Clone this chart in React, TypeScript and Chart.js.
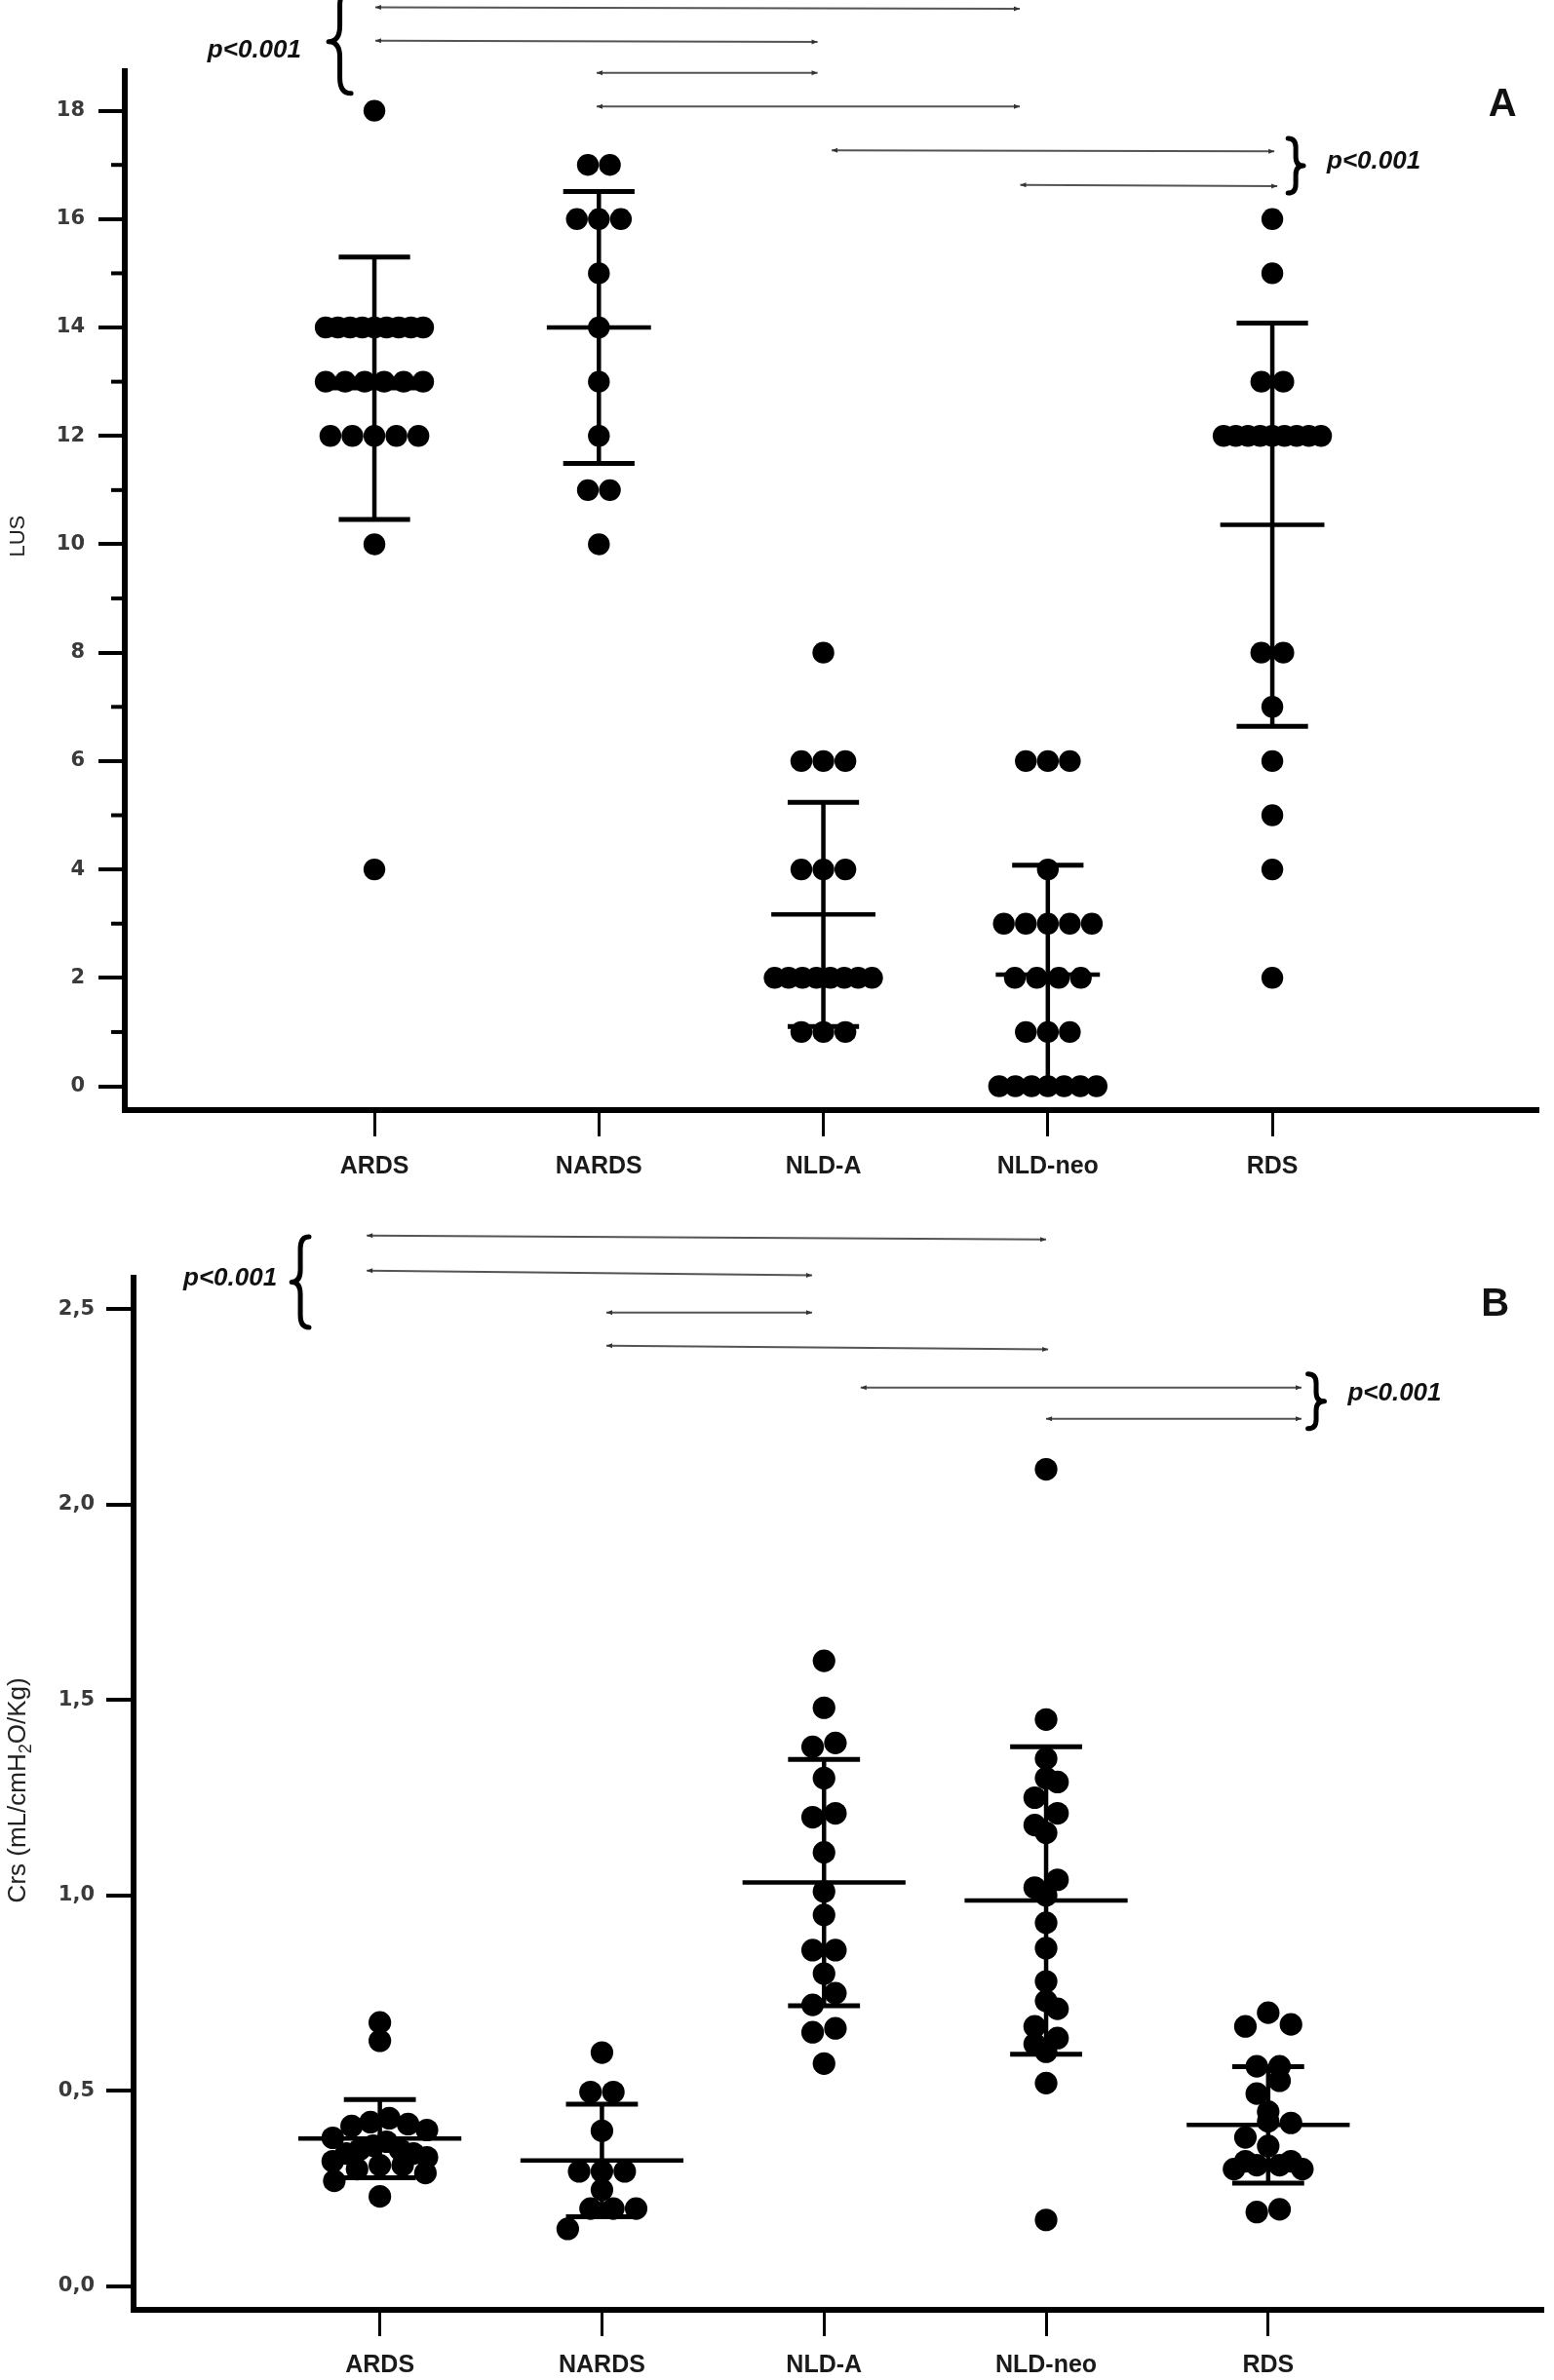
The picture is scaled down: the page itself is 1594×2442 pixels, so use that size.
import React, { useEffect, useRef } from 'react';
import { Chart, registerables } from 'chart.js';

Chart.register(...registerables);

// ---------------- shared ----------------
const categories = ['ARDS', 'NARDS', 'NLD-A', 'NLD-neo', 'RDS'];
const pValueText = 'p<0.001';

// ---------------- Panel A : LUS ----------------
const lusARDS = [18, 14, 14, 14, 14, 14, 14, 14, 14, 14, 13, 13, 13, 13, 13, 13, 12, 12, 12, 12, 12, 10, 4];
const lusNARDS = [17, 17, 16, 16, 16, 15, 14, 13, 12, 11, 11, 10];
const lusNLDA = [8, 6, 6, 6, 4, 4, 4, 2, 2, 2, 2, 2, 2, 2, 2, 1, 1, 1];
const lusNLDneo = [6, 6, 6, 4, 3, 3, 3, 3, 3, 2, 2, 2, 2, 1, 1, 1, 0, 0, 0, 0, 0, 0, 0];
const lusRDS = [16, 15, 13, 13, 12, 12, 12, 12, 12, 12, 12, 12, 12, 8, 8, 7, 6, 5, 4, 2];
const lusMean = [12.88, 14.0, 3.17, 2.06, 10.36];
const lusSD = [2.42, 2.51, 2.07, 2.02, 3.72];
const lusTickValues = [0, 2, 4, 6, 8, 10, 12, 14, 16, 18];
const lusTickLabels = ['0', '2', '4', '6', '8', '10', '12', '14', '16', '18'];
const lusMinorTicks = [1, 3, 5, 7, 9, 11, 13, 15, 17];
const lusTitleParts = [{ t: 'LUS', sub: false }];
const lusTitleY = 10.15;
// significance lines: [xFrom, xTo, yFrom, yTo] (category / LUS units)
const lusSigLines = [
  [1.004, 3.875, 19.91, 19.88],
  [1.004, 2.974, 19.29, 19.27],
  [1.99, 2.974, 18.7, 18.7],
  [1.99, 3.875, 18.08, 18.08],
  [3.037, 5.009, 17.27, 17.25],
  [3.877, 5.022, 16.63, 16.61],
];
// braces: [xEnds, xTip, yTop, yBottom]
const lusBraces = [
  [0.896, 0.796, 20.23, 18.32],
  [5.07, 5.139, 17.49, 16.48],
];
// p-value labels: [x, y, align]
const lusPLabels: [number, number, CanvasTextAlign][] = [
  [0.674, 19.11, 'right'],
  [5.243, 17.06, 'left'],
];
const lusLetterPos = [6.025, 18.1];

// ---------------- Panel B : Crs ----------------
const crsARDS = [0.675, 0.628, 0.43, 0.42, 0.415, 0.41, 0.4, 0.38, 0.37, 0.36, 0.35, 0.35, 0.34, 0.34, 0.33, 0.32, 0.31, 0.31, 0.3, 0.29, 0.27, 0.23];
const crsNARDS = [0.598, 0.497, 0.497, 0.398, 0.294, 0.294, 0.294, 0.247, 0.199, 0.199, 0.199, 0.147];
const crsNLDA = [1.6, 1.48, 1.39, 1.38, 1.3, 1.21, 1.2, 1.11, 1.01, 0.95, 0.86, 0.86, 0.8, 0.75, 0.72, 0.66, 0.65, 0.57];
const crsNLDneo = [2.09, 1.45, 1.35, 1.3, 1.29, 1.25, 1.21, 1.18, 1.16, 1.04, 1.02, 1.0, 0.93, 0.865, 0.78, 0.73, 0.71, 0.665, 0.635, 0.62, 0.6, 0.52, 0.17];
const crsRDS = [0.7, 0.67, 0.665, 0.563, 0.563, 0.526, 0.493, 0.447, 0.422, 0.418, 0.381, 0.359, 0.32, 0.32, 0.31, 0.31, 0.3, 0.3, 0.197, 0.19];
const crsMean = [0.378, 0.322, 1.033, 0.987, 0.413];
const crsSD = [0.1, 0.144, 0.315, 0.393, 0.149];
const crsTickValues = [0, 0.5, 1.0, 1.5, 2.0, 2.5];
const crsTickLabels = ['0,0', '0,5', '1,0', '1,5', '2,0', '2,5'];
const crsMinorTicks: number[] = [];
const crsTitleParts = [
  { t: 'Crs (mL/cmH', sub: false },
  { t: '2', sub: true },
  { t: 'O/Kg)', sub: false },
];
const crsTitleY = 1.269;
const crsSigLines = [
  [0.941, 4.0, 2.688, 2.678],
  [0.941, 2.946, 2.598, 2.586],
  [2.02, 2.946, 2.491, 2.491],
  [2.02, 4.009, 2.406, 2.397],
  [3.165, 5.15, 2.299, 2.299],
  [4.0, 5.15, 2.219, 2.219],
];
const crsBraces = [
  [0.681, 0.603, 2.685, 2.453],
  [5.179, 5.253, 2.334, 2.194],
];
const crsPLabels: [number, number, CanvasTextAlign][] = [
  [0.537, 2.578, 'right'],
  [5.358, 2.283, 'left'],
];
const crsLetterPos = [6.022, 2.511];

// ---------------- helpers ----------------
const SANS = "'Liberation Sans', Arial, Helvetica, sans-serif";
const WIDE = "'DejaVu Sans', Verdana, sans-serif";

type Pt = { x: number | null; y: number | null };
type Part = { t: string; sub: boolean };

function swarm(values: number[], center: number, binSize: number, step: number, maxSpan: number): Pt[] {
  const bins = new Map<number, number[]>();
  values.forEach((v) => {
    const k = Math.floor(v / binSize + 0.5);
    if (!bins.has(k)) bins.set(k, []);
    bins.get(k)!.push(v);
  });
  const pts: Pt[] = [];
  bins.forEach((vs) => {
    vs.sort((a, b) => b - a);
    const n = vs.length;
    const sp = n > 1 ? Math.min(step, maxSpan / (n - 1)) : 0;
    const slots = Array.from({ length: n }, (_, i) => (i - (n - 1) / 2) * sp).sort(
      (a, b) => Math.abs(a) - Math.abs(b) || b - a
    );
    vs.forEach((v, i) => pts.push({ x: center + slots[i], y: v }));
  });
  return pts;
}

function drawBrace(ctx: CanvasRenderingContext2D, xe: number, xt: number, yt: number, yb: number) {
  const mid = (yt + yb) / 2;
  const xm = (xe + xt) / 2;
  const r = Math.min(Math.abs(xe - xt) * 0.7, (yb - yt) / 6);
  ctx.beginPath();
  ctx.moveTo(xe, yt);
  ctx.quadraticCurveTo(xm, yt, xm, yt + r);
  ctx.lineTo(xm, mid - r);
  ctx.quadraticCurveTo(xm, mid, xt, mid);
  ctx.quadraticCurveTo(xm, mid, xm, mid + r);
  ctx.lineTo(xm, yb - r);
  ctx.quadraticCurveTo(xm, yb, xe, yb);
  ctx.stroke();
}

function arrowHead(ctx: CanvasRenderingContext2D, x: number, y: number, dir: number) {
  ctx.beginPath();
  ctx.moveTo(x, y);
  ctx.lineTo(x - dir * 6, y - 2.5);
  ctx.lineTo(x - dir * 6, y + 2.5);
  ctx.closePath();
  ctx.fill();
}

type PanelCfg = {
  letter: string;
  height: number;
  yAxisWidth: number;
  xAxisHeight: number;
  padTop: number;
  padRight: number;
  xMin: number;
  xMax: number;
  yMin: number;
  yMax: number;
  tickValues: number[];
  tickLabels: string[];
  minorTicks: number[];
  yTickLen: number;
  yTickPad: number;
  xTickPad: number;
  titleParts: Part[];
  titleY: number;
  titleSize: number;
  groups: number[][];
  means: number[];
  sds: number[];
  meanHalf: number;
  capHalf: number;
  radius: number;
  bin: number;
  step: number;
  maxSpan: number;
  sigLines: number[][];
  braces: number[][];
  pLabels: [number, number, CanvasTextAlign][];
  letterPos: number[];
};

const panelA: PanelCfg = {
  letter: 'A',
  height: 1221,
  yAxisWidth: 128,
  xAxisHeight: 82,
  padTop: 73,
  padRight: 17,
  xMin: -0.112,
  xMax: 6.181,
  yMin: -0.44,
  yMax: 18.73,
  tickValues: lusTickValues,
  tickLabels: lusTickLabels,
  minorTicks: lusMinorTicks,
  yTickLen: 27,
  yTickPad: 14,
  xTickPad: 16,
  titleParts: lusTitleParts,
  titleY: lusTitleY,
  titleSize: 22,
  groups: [lusARDS, lusNARDS, lusNLDA, lusNLDneo, lusRDS],
  means: lusMean,
  sds: lusSD,
  meanHalf: 0.232,
  capHalf: 0.159,
  radius: 11.2,
  bin: 0.4,
  step: 0.098,
  maxSpan: 0.434,
  sigLines: lusSigLines,
  braces: lusBraces,
  pLabels: lusPLabels,
  letterPos: lusLetterPos,
};

const panelB: PanelCfg = {
  letter: 'B',
  height: 1221,
  yAxisWidth: 137,
  xAxisHeight: 72,
  padTop: 90,
  padRight: 4,
  xMin: -0.109,
  xMax: 6.236,
  yMin: -0.06,
  yMax: 2.58,
  tickValues: crsTickValues,
  tickLabels: crsTickLabels,
  minorTicks: crsMinorTicks,
  yTickLen: 28,
  yTickPad: 12,
  xTickPad: 15,
  titleParts: crsTitleParts,
  titleY: crsTitleY,
  titleSize: 26,
  groups: [crsARDS, crsNARDS, crsNLDA, crsNLDneo, crsRDS],
  means: crsMean,
  sds: crsSD,
  meanHalf: 0.367,
  capHalf: 0.162,
  radius: 11.6,
  bin: 0.0574,
  step: 0.1026,
  maxSpan: 0.424,
  sigLines: crsSigLines,
  braces: crsBraces,
  pLabels: crsPLabels,
  letterPos: crsLetterPos,
};

function Panel({ cfg, top }: { cfg: PanelCfg; top: number }) {
  const ref = useRef<HTMLCanvasElement | null>(null);

  useEffect(() => {
    if (!ref.current) return;
    const dots: Pt[] = [];
    cfg.groups.forEach((g, i) => dots.push(...swarm(g, i + 1, cfg.bin, cfg.step, cfg.maxSpan)));
    const gap: Pt = { x: null, y: null };
    const meanSegs: Pt[] = [];
    const sdSegs: Pt[] = [];
    const capSegs: Pt[] = [];
    cfg.means.forEach((m, i) => {
      const c = i + 1;
      const sd = cfg.sds[i];
      meanSegs.push({ x: c - cfg.meanHalf, y: m }, { x: c + cfg.meanHalf, y: m }, gap);
      sdSegs.push({ x: c, y: m - sd }, { x: c, y: m + sd }, gap);
      capSegs.push(
        { x: c - cfg.capHalf, y: m + sd },
        { x: c + cfg.capHalf, y: m + sd },
        gap,
        { x: c - cfg.capHalf, y: m - sd },
        { x: c + cfg.capHalf, y: m - sd },
        gap
      );
    });

    const annot = {
      id: 'annot' + cfg.letter,
      afterDraw(chart: any) {
        const { ctx, chartArea } = chart;
        const xs = chart.scales.x;
        const ys = chart.scales.y;
        const px = (v: number) => xs.getPixelForValue(v);
        const py = (v: number) => ys.getPixelForValue(v);
        ctx.save();
        // minor ticks
        ctx.strokeStyle = '#000';
        ctx.lineWidth = 4;
        ctx.lineCap = 'butt';
        cfg.minorTicks.forEach((v) => {
          const y = py(v);
          ctx.beginPath();
          ctx.moveTo(chartArea.left - 14, y);
          ctx.lineTo(chartArea.left - 2, y);
          ctx.stroke();
        });
        // significance lines
        ctx.strokeStyle = '#555';
        ctx.fillStyle = '#333';
        ctx.lineWidth = 2;
        cfg.sigLines.forEach(([x1, x2, y1, y2]) => {
          const X1 = px(x1);
          const X2 = px(x2);
          const Y1 = py(y1);
          const Y2 = py(y2);
          ctx.beginPath();
          ctx.moveTo(X1, Y1);
          ctx.lineTo(X2, Y2);
          ctx.stroke();
          arrowHead(ctx, X1, Y1, -1);
          arrowHead(ctx, X2, Y2, 1);
        });
        // braces
        ctx.strokeStyle = '#000';
        ctx.lineWidth = 5;
        ctx.lineJoin = 'round';
        ctx.lineCap = 'round';
        cfg.braces.forEach(([xe, xt, yt, yb]) => drawBrace(ctx, px(xe), px(xt), py(yt), py(yb)));
        // p-values
        ctx.fillStyle = '#111';
        ctx.font = `italic bold 26px ${SANS}`;
        ctx.textBaseline = 'middle';
        cfg.pLabels.forEach(([x, y, align]) => {
          ctx.textAlign = align;
          ctx.fillText(pValueText, px(x), py(y));
        });
        // panel letter
        ctx.font = `bold 40px ${SANS}`;
        ctx.textAlign = 'center';
        ctx.fillText(cfg.letter, px(cfg.letterPos[0]), py(cfg.letterPos[1]));
        // y-axis title (rotated, with subscript support)
        const fs = cfg.titleSize;
        const mainFont = `${fs}px ${SANS}`;
        const subFont = `${Math.round(fs * 0.68)}px ${SANS}`;
        let total = 0;
        cfg.titleParts.forEach((p) => {
          ctx.font = p.sub ? subFont : mainFont;
          total += ctx.measureText(p.t).width;
        });
        ctx.translate(19, py(cfg.titleY));
        ctx.rotate(-Math.PI / 2);
        ctx.fillStyle = '#222';
        ctx.textAlign = 'left';
        ctx.textBaseline = 'middle';
        let cx = -total / 2;
        cfg.titleParts.forEach((p) => {
          ctx.font = p.sub ? subFont : mainFont;
          ctx.fillText(p.t, cx, p.sub ? fs * 0.3 : 0);
          cx += ctx.measureText(p.t).width;
        });
        ctx.restore();
      },
    };

    const lineDs = (data: Pt[], w: number) => ({
      data,
      showLine: true,
      borderColor: '#000',
      borderWidth: w,
      pointRadius: 0,
      pointHoverRadius: 0,
      spanGaps: false,
      borderCapStyle: 'butt' as const,
      clip: false as const,
    });

    const chart = new Chart(ref.current, {
      type: 'scatter',
      data: {
        datasets: [
          {
            data: dots as any,
            pointRadius: cfg.radius,
            pointHoverRadius: cfg.radius,
            pointBackgroundColor: '#000',
            pointBorderWidth: 0,
            showLine: false,
          },
          lineDs(meanSegs, 4.5) as any,
          lineDs(sdSegs, 4.5) as any,
          lineDs(capSegs, 5) as any,
        ],
      },
      options: {
        animation: false,
        responsive: false,
        maintainAspectRatio: false,
        devicePixelRatio: 1,
        events: [],
        layout: { padding: { top: cfg.padTop, right: cfg.padRight, left: 0, bottom: 0 } },
        plugins: { legend: { display: false }, tooltip: { enabled: false } },
        scales: {
          x: {
            type: 'linear',
            min: cfg.xMin,
            max: cfg.xMax,
            afterBuildTicks: (s: any) => {
              s.ticks = categories.map((_, i) => ({ value: i + 1 }));
            },
            afterFit: (s: any) => {
              s.height = cfg.xAxisHeight;
            },
            grid: {
              display: true,
              drawOnChartArea: false,
              drawTicks: true,
              tickLength: 27,
              tickWidth: 3,
              tickColor: '#000',
              color: '#000',
              lineWidth: 3,
            },
            border: { display: true, width: 6, color: '#000' },
            ticks: {
              autoSkip: false,
              maxRotation: 0,
              padding: cfg.xTickPad,
              color: '#1a1a1a',
              font: { family: SANS, size: 25, weight: 'bold' },
              callback: (_v: any, i: number) => categories[i],
            },
          },
          y: {
            type: 'linear',
            min: cfg.yMin,
            max: cfg.yMax,
            afterBuildTicks: (s: any) => {
              s.ticks = cfg.tickValues.map((v) => ({ value: v }));
            },
            afterFit: (s: any) => {
              s.width = cfg.yAxisWidth;
            },
            grid: {
              display: true,
              drawOnChartArea: false,
              drawTicks: true,
              tickLength: cfg.yTickLen,
              tickWidth: 4,
              tickColor: '#000',
              color: '#000',
              lineWidth: 4,
            },
            border: { display: true, width: 6, color: '#000' },
            ticks: {
              autoSkip: false,
              padding: cfg.yTickPad,
              color: '#3a3a3a',
              font: { family: WIDE, size: 21, weight: 'bold' },
              callback: (_v: any, i: number) => cfg.tickLabels[i],
            },
          },
        },
      },
      plugins: [annot],
    } as any);

    return () => chart.destroy();
  }, [cfg]);

  return (
    <canvas
      ref={ref}
      width={1594}
      height={cfg.height}
      style={{ position: 'absolute', left: 0, top, width: 1594, height: cfg.height }}
    />
  );
}

export default function App() {
  return (
    <div style={{ position: 'absolute', left: 0, top: 0, width: 1594, height: 2442, background: '#fff' }}>
      <Panel cfg={panelA} top={0} />
      <Panel cfg={panelB} top={1221} />
    </div>
  );
}
